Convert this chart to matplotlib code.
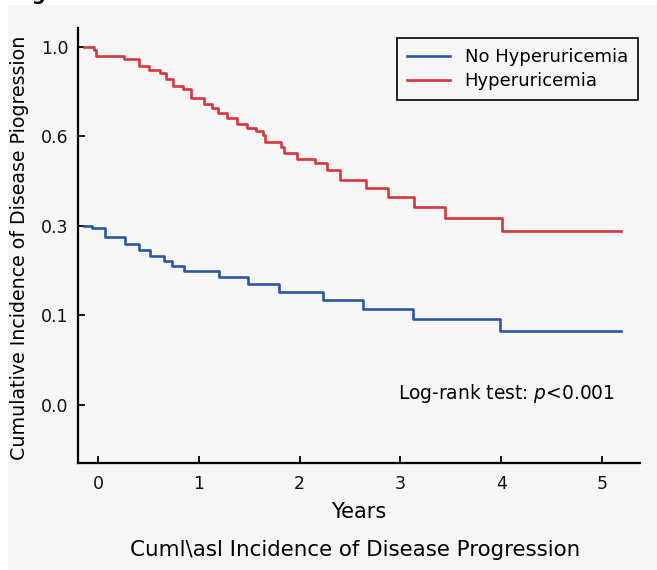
import matplotlib
matplotlib.use("Agg")
import matplotlib.pyplot as plt
import numpy as np
from matplotlib.patches import Rectangle

# Kaplan-Meier style step data (years, cumulative incidence)
no_hyper_times = [-0.14, -0.06, 0.07, 0.27, 0.40, 0.51, 0.65, 0.73, 0.85, 1.20,
                  1.49, 1.79, 2.23, 2.63, 3.12, 3.99, 5.19]
no_hyper_vals = [0.300, 0.294, 0.274, 0.259, 0.246, 0.233, 0.221, 0.210, 0.199,
                 0.186, 0.171, 0.153, 0.134, 0.114, 0.096, 0.083, 0.083]

hyper_times = [-0.14, -0.04, -0.02, 0.26, 0.40, 0.50, 0.61, 0.67, 0.74, 0.84,
               0.92, 1.05, 1.13, 1.19, 1.28, 1.38, 1.48, 1.57, 1.64, 1.66,
               1.815, 1.84, 1.97, 2.15, 2.27, 2.40, 2.66, 2.88, 3.13, 3.44,
               4.01, 5.19]
hyper_vals = [1.0, 0.985, 0.958, 0.943, 0.915, 0.896, 0.881, 0.855, 0.826, 0.809,
              0.772, 0.742, 0.724, 0.702, 0.683, 0.654, 0.635, 0.623, 0.605, 0.582,
              0.563, 0.543, 0.525, 0.509, 0.488, 0.453, 0.428, 0.395, 0.362, 0.327,
              0.288, 0.288]

series_labels = ["No Hyperuricemia", "Hyperuricemia"]
x_ticks = [0, 1, 2, 3, 4, 5]
y_ticks = [0.0, 0.1, 0.3, 0.6, 1.0]

BLUE = "#2b56a8"
RED = "#d8353c"
BG = "#f6f6f6"

# the y axis is spaced evenly by tick, not by value -> piecewise linear scale
_vals = np.array([-1.0, 0.0, 0.1, 0.3, 0.6, 1.0, 2.0])
_pos = np.array([-10.0, 0.0, 1.0, 2.0, 3.0, 4.0, 6.5])


def forward(v):
    return np.interp(v, _vals, _pos)


def inverse(p):
    return np.interp(p, _pos, _vals)


fig = plt.figure(figsize=(6.57, 5.70), dpi=100, facecolor="white")
fig.patches.append(Rectangle((8 / 657, 0), 1, 1 - 5 / 570, transform=fig.transFigure,
                             facecolor=BG, edgecolor="none", zorder=-10))
fig.text(12 / 657, 1.0, "Fig. 3", fontsize=14, fontweight="bold", va="baseline")

ax = fig.add_axes([78 / 657, 1 - 462.7 / 570, 562 / 657, 435 / 570])
ax.patch.set_alpha(0)

ax.step(no_hyper_times, no_hyper_vals, where="post", color=BLUE, lw=1.9,
        label=series_labels[0])
ax.step(hyper_times, hyper_vals, where="post", color=RED, lw=1.9,
        label=series_labels[1])

ax.set_yscale("function", functions=(forward, inverse))
ax.set_ylim(inverse(-0.644), inverse(4.211))
ax.set_xlim(-0.2016, 5.379)
ax.set_xticks(x_ticks)
ax.set_xticklabels([str(t) for t in x_ticks])
ax.set_yticks(y_ticks)
ax.set_yticklabels([f"{t:.1f}" for t in y_ticks])
ax.yaxis.set_minor_locator(matplotlib.ticker.NullLocator())

for side in ("top", "right"):
    ax.spines[side].set_visible(False)
for side in ("left", "bottom"):
    ax.spines[side].set_linewidth(1.6)
ax.tick_params(axis="both", direction="in", length=5, width=1.4, labelsize=12.5,
               colors="#111111")
ax.tick_params(axis="y", pad=7)
ax.tick_params(axis="x", pad=9)

ax.set_xlabel("Years", fontsize=15, labelpad=6)

leg = ax.legend(loc="upper right", bbox_to_anchor=(0.996, 0.976), borderaxespad=0,
                fontsize=13, frameon=True, fancybox=False, framealpha=1,
                handlelength=2.4, borderpad=0.55, labelspacing=0.35)
leg.get_frame().set_edgecolor("black")
leg.get_frame().set_linewidth(1.2)
leg.get_frame().set_facecolor(BG)

ax.text(2.976, 0.007, "Log-rank test: $p$<0.001", fontsize=13.4, va="baseline")

fig.text(20 / 657, 1 - 248 / 570, "Cumulative Incidence of Disease Piogression",
         rotation=90, ha="center", va="center", fontsize=13.7)
fig.text(355 / 657, 1 - 550 / 570, "Cuml\\asl Incidence of Disease Progression",
         ha="center", va="center", fontsize=15.4)

fig.savefig("out.png", dpi=100, facecolor=fig.get_facecolor())
